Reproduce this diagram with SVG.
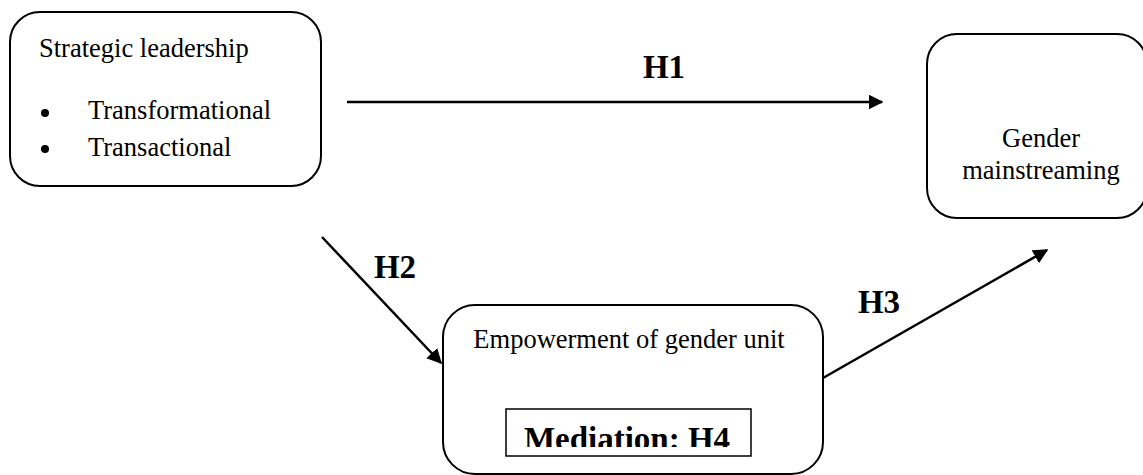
<svg xmlns="http://www.w3.org/2000/svg" width="1143" height="475" viewBox="0 0 1143 475">
  <style>
    .box { fill: #fff; stroke: #000; stroke-width: 2; }
    .txt { font-family: "Liberation Serif", "Times New Roman", serif; font-size: 26.5px; fill: #000; }
    .hl { font-family: "Liberation Serif", "Times New Roman", serif; font-size: 33px; font-weight: bold; fill: #000; }
    .edge { stroke: #000; stroke-width: 2.5; fill: none; marker-end: url(#arrow); }
  </style>
  <defs>
    <marker id="arrow" viewBox="0 0 10 10" refX="9" refY="5" markerWidth="6" markerHeight="6" markerUnits="strokeWidth" orient="auto">
      <path d="M0,0 L10,5 L0,10 z" fill="#000"/>
    </marker>
    <clipPath id="medClip">
      <rect x="506" y="409" width="245" height="38"/>
    </clipPath>
  </defs>
  <rect width="1143" height="475" fill="#fff"/>

  <g id="connectors">
    <line class="edge" x1="347" y1="102" x2="882" y2="102"/>
    <line class="edge" x1="322" y1="237" x2="441" y2="363"/>
    <line class="edge" x1="823" y1="378" x2="1047" y2="250"/>
    <text class="hl" x="664" y="78" text-anchor="middle">H1</text>
    <text class="hl" x="395" y="278" text-anchor="middle">H2</text>
    <text class="hl" x="879" y="313" text-anchor="middle">H3</text>
  </g>

  <g id="strategic-leadership">
    <rect class="box" x="10" y="12" width="311" height="174" rx="30" ry="30"/>
    <text class="txt" x="39" y="57">Strategic leadership</text>
    <circle cx="45" cy="113" r="4"/>
    <text class="txt" x="88" y="119">Transformational</text>
    <circle cx="45" cy="149" r="4"/>
    <text class="txt" x="88" y="156">Transactional</text>
  </g>

  <g id="gender-mainstreaming">
    <rect class="box" x="927" y="34" width="220" height="184" rx="30" ry="30"/>
    <text class="txt" x="1041" y="147" text-anchor="middle">Gender</text>
    <text class="txt" x="1041" y="179" text-anchor="middle">mainstreaming</text>
  </g>

  <g id="empowerment">
    <rect class="box" x="443" y="305" width="380" height="169" rx="32" ry="32"/>
    <text class="txt" x="629" y="348" text-anchor="middle">Empowerment of gender unit</text>
    <g id="mediation">
      <rect x="506" y="409" width="245" height="47" fill="#fff" stroke="#000" stroke-width="1.5"/>
      <text class="hl" x="627" y="450" text-anchor="middle" font-size="31.5" clip-path="url(#medClip)">Mediation: H4</text>
    </g>
  </g>
</svg>
